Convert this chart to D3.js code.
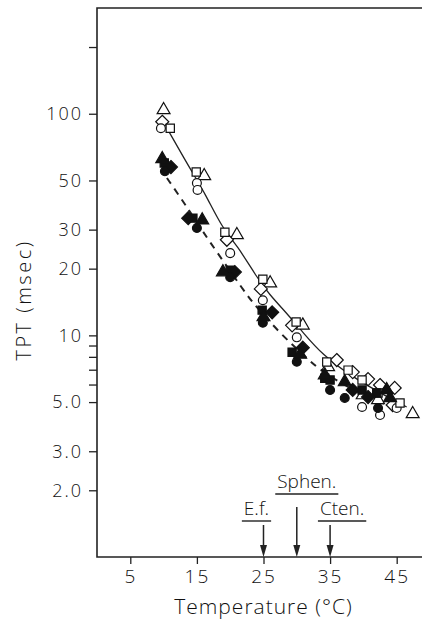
<!DOCTYPE html>
<html>
<head>
<meta charset="utf-8">
<script src="https://cdn.jsdelivr.net/npm/d3@7"></script>
<style>
  body { margin: 0; background: #fff; }
  svg text { font-family: "Open Sans", "DejaVu Sans", sans-serif; font-weight: 300; fill: #111; }
  .tick line { stroke: #222; stroke-width: 1.3; }
</style>
</head>
<body>
<div class="chart-container"></div>
<script>
var W = 427, H = 627;
var margin = {top: 8, right: 7, bottom: 70, left: 97};
var width = W - margin.left - margin.right;
var height = H - margin.top - margin.bottom;

// tick values / labels
var xTicks = [5, 15, 25, 35, 45];
var yTicks = [200, 100, 50, 30, 20, 10, 9, 8, 7, 6, 5, 3, 2];
var yTickLabels = ['', '100', '50', '30', '20', '10', '', '', '', '', '5.0', '3.0', '2.0'];

// fitted curves: [temperature, TPT]
var solidCurve = [[10.7, 84], [14.0, 56.3], [16.2, 43.9], [18.8, 30.5], [21.0, 25.6], [24.0, 18.3],
  [25.7, 15.5], [29.0, 12.1], [30.8, 10.4], [33.9, 8.15], [38.0, 6.6], [42.5, 5.5], [46.5, 4.75]];
var dashedCurve = [[10.5, 51.3], [12.5, 42], [14.0, 36], [16.2, 28.4], [22.5, 15.2], [23.7, 13.7],
  [27.5, 10.2], [31.5, 7.9], [33.2, 7.1], [36.5, 6.1], [41.0, 5.2], [45.5, 4.6]];

// open symbols
var openTriangle = [[10.0, 104], [16.1, 52.4], [21.0, 28.4], [26.0, 17.2], [30.9, 11.1], [34.7, 7.2],
  [39.9, 5.38], [42.2, 5.11], [47.4, 4.42]];
var openDiamond = [[9.8, 92], [19.5, 27.0], [24.6, 16.2], [29.3, 11.1], [36.0, 7.74], [38.4, 6.83],
  [40.7, 6.35], [42.5, 5.97], [44.7, 5.79], [44.4, 4.85]];
var openCircle = [[9.6, 86], [15.0, 48.7], [15.1, 45.3], [20.0, 23.5], [24.9, 14.4], [30.0, 9.8],
  [39.8, 4.75], [42.5, 4.37], [45.0, 4.7]];
var openSquare = [[11.0, 86], [14.9, 54.6], [19.2, 29.2], [24.9, 17.9], [29.9, 11.5], [34.5, 7.58],
  [37.7, 6.97], [39.8, 6.29], [42.2, 5.5], [45.5, 4.95]];

// filled symbols
var filledTriangle = [[9.8, 62.5], [15.8, 33.1], [18.9, 19.3], [25.0, 12.1], [30.5, 8.2], [34.2, 6.62],
  [37.2, 6.16], [43.5, 5.67], [44.0, 5.22]];
var filledDiamond = [[11.1, 57.5], [13.7, 33.8], [20.7, 19.3], [26.3, 12.7], [30.9, 8.8], [38.4, 5.67],
  [40.7, 5.27]];
var filledCircle = [[10.2, 55], [15.0, 30.5], [20.0, 18.3], [24.9, 11.4], [30.0, 7.6], [35.0, 5.67],
  [37.2, 5.22], [42.2, 4.7]];
var filledSquare = [[10.1, 60], [14.4, 33.8], [20.0, 19.7], [24.8, 13.0], [29.3, 8.4], [34.2, 6.4],
  [35.0, 6.29], [39.8, 5.67], [42.0, 5.5]];

// species markers on the temperature axis
var markerNames = ['E.f.', 'Sphen.', 'Cten.'];
var markerTemps = [25, 30, 35];
var markerRows = [1, 0, 1];
var markerShift = [-7, 10, 12];

var svg = d3.select('.chart-container').append('svg')
  .attr('width', W)
  .attr('height', H);

var x = d3.scaleLinear()
  .domain([0, 48.5])
  .range([margin.left, margin.left + width]);

var y = d3.scaleLog()
  .domain([1, 300])
  .range([margin.top + height, margin.top]);

// axes
var gX = svg.append('g')
  .attr('transform', `translate(0,${margin.top + height})`)
  .call(d3.axisBottom(x).tickValues(xTicks).tickSize(7).tickPadding(6).tickFormat(d3.format('d')));
gX.select('.domain').remove();
gX.selectAll('text').attr('font-size', 19).attr('letter-spacing', 2);

var gY = svg.append('g')
  .attr('transform', `translate(${margin.left},0)`)
  .call(d3.axisLeft(y).tickValues(yTicks).tickSize(8).tickPadding(6)
    .tickFormat((d, i) => yTickLabels[i]));
gY.select('.domain').remove();
gY.selectAll('text').attr('font-size', 18).attr('letter-spacing', 2);

// frame: left, top, bottom
svg.append('path')
  .attr('d', `M${margin.left + width + 2},${margin.top}H${margin.left}V${margin.top + height}H${margin.left + width + 2}`)
  .attr('fill', 'none')
  .attr('stroke', '#222')
  .attr('stroke-width', 1.6);

// axis titles
svg.append('text')
  .attr('transform', `translate(31,${margin.top + 292}) rotate(-90)`)
  .attr('text-anchor', 'middle')
  .attr('font-size', 20)
  .attr('letter-spacing', 2.5)
  .text('TPT (msec)');

svg.append('text')
  .attr('x', x(25))
  .attr('y', 614)
  .attr('text-anchor', 'middle')
  .attr('font-size', 21)
  .attr('letter-spacing', 1)
  .text('Temperature (°C)');

// curves
var line = d3.line()
  .x(d => x(d[0]))
  .y(d => y(d[1]))
  .curve(d3.curveBasis);

svg.append('path')
  .datum(solidCurve)
  .attr('d', line)
  .attr('fill', 'none')
  .attr('stroke', '#222')
  .attr('stroke-width', 1.3);

svg.append('path')
  .datum(dashedCurve)
  .attr('d', line)
  .attr('fill', 'none')
  .attr('stroke', '#222')
  .attr('stroke-width', 2)
  .attr('stroke-dasharray', '7,6');

// symbols
var diamondType = {
  draw: function(ctx, size) {
    var r = Math.sqrt(size / 2);
    ctx.moveTo(0, -r);
    ctx.lineTo(r, 0);
    ctx.lineTo(0, r);
    ctx.lineTo(-r, 0);
    ctx.closePath();
  }
};

var sets = [
  {data: openTriangle, type: d3.symbolTriangle, size: 72, fill: '#fff'},
  {data: openDiamond, type: diamondType, size: 85, fill: '#fff'},
  {data: openCircle, type: d3.symbolCircle, size: 62, fill: '#fff'},
  {data: openSquare, type: d3.symbolSquare, size: 68, fill: '#fff'},
  {data: filledSquare, type: d3.symbolSquare, size: 68, fill: '#111'},
  {data: filledDiamond, type: diamondType, size: 85, fill: '#111'},
  {data: filledCircle, type: d3.symbolCircle, size: 62, fill: '#111'},
  {data: filledTriangle, type: d3.symbolTriangle, size: 72, fill: '#111'}
];

sets.forEach(function(s) {
  svg.append('g').selectAll('path')
    .data(s.data)
    .enter().append('path')
      .attr('transform', d => `translate(${x(d[0])},${y(d[1])})`)
      .attr('d', d3.symbol().type(s.type).size(s.size))
      .attr('fill', s.fill)
      .attr('stroke', '#111')
      .attr('stroke-width', 1.2);
});

// species markers
var rowY = [478, 505];
var ann = svg.append('g');
markerNames.forEach(function(name, i) {
  var cx = x(markerTemps[i]);
  var ty = rowY[markerRows[i]];
  var mid = cx + markerShift[i];
  var t = ann.append('text')
    .attr('x', mid)
    .attr('y', ty + 10)
    .attr('text-anchor', 'middle')
    .attr('font-size', 19)
    .text(name);
  var w = t.node().getComputedTextLength();
  ann.append('line')
    .attr('x1', mid - w / 2 - 2).attr('x2', mid + w / 2 + 2)
    .attr('y1', ty + 16).attr('y2', ty + 16)
    .attr('stroke', '#222').attr('stroke-width', 1.4);
  var bottom = margin.top + height;
  ann.append('line')
    .attr('x1', cx).attr('x2', cx)
    .attr('y1', ty + (i === 1 ? 29 : 20)).attr('y2', bottom - 10)
    .attr('stroke', '#222').attr('stroke-width', 1.5);
  ann.append('path')
    .attr('d', `M${cx - 3.5},${bottom - 12}L${cx + 3.5},${bottom - 12}L${cx},${bottom}Z`)
    .attr('fill', '#222');
});
</script>
</body>
</html>
